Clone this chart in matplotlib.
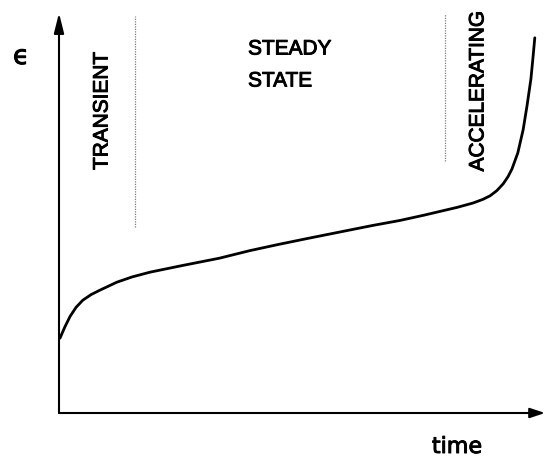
import matplotlib.pyplot as plt
import matplotlib.patheffects as pe

# creep curve (time, strain), both in 0..1 of the axes
time = [0.002, 0.012, 0.023, 0.035, 0.049, 0.066, 0.084, 0.119, 0.150, 0.187,
        0.255, 0.330, 0.393, 0.450, 0.510, 0.580, 0.646, 0.700, 0.749, 0.784,
        0.819, 0.852, 0.872, 0.887, 0.901, 0.914, 0.924, 0.932, 0.944, 0.955,
        0.963, 0.971, 0.975, 0.979]
strain = [0.187, 0.215, 0.242, 0.264, 0.282, 0.296, 0.307, 0.327, 0.340, 0.352,
          0.369, 0.387, 0.406, 0.421, 0.436, 0.453, 0.469, 0.481, 0.494, 0.504,
          0.514, 0.525, 0.534, 0.543, 0.556, 0.573, 0.591, 0.610, 0.650, 0.708,
          0.768, 0.835, 0.885, 0.938]

# stage boundaries (dotted lines)
bound_t = [0.156, 0.794]
bound_lo = [0.464, 0.631]
bound_hi = [0.993, 0.998]

fig = plt.figure(figsize=(5.47, 4.62), dpi=100)
ax = fig.add_axes([59 / 547, 49 / 462, 486 / 547, 400 / 462])
ax.set_xlim(0, 1)
ax.set_ylim(0, 1)
ax.axis("off")

# axes with arrows
ax.annotate("", xy=(1.0, 0), xytext=(0, 0),
            arrowprops=dict(arrowstyle="-|>,head_length=0.9,head_width=0.3",
                            lw=1.5, color="black", shrinkA=0, shrinkB=0),
            annotation_clip=False)
ax.annotate("", xy=(0, 1.0), xytext=(0, 0),
            arrowprops=dict(arrowstyle="-|>,head_length=1.2,head_width=0.3",
                            lw=1.5, color="black", shrinkA=0, shrinkB=0),
            annotation_clip=False)

ax.plot(time, strain, color="black", lw=2.0, solid_capstyle="round",
        solid_joinstyle="round")

for t, lo, hi in zip(bound_t, bound_lo, bound_hi):
    ax.plot([t, t], [lo, hi], color="gray", lw=0.9, linestyle=(0, (1, 1)))

fnt = "Liberation Sans"
bold = [pe.withStroke(linewidth=0.7, foreground="black")]
ax.text(0.0885, 0.756, "TRANSIENT", rotation=90, ha="center", va="center",
        fontsize=15, family=fnt, path_effects=bold)
ax.text(0.389, 0.910, "STEADY", ha="left", va="center", fontsize=15, family=fnt,
        path_effects=bold)
ax.text(0.389, 0.830, "STATE", ha="left", va="center", fontsize=15, family=fnt,
        path_effects=bold)
ax.text(0.862, 0.805, "ACCELERATING", rotation=90, ha="center", va="center",
        fontsize=15, family=fnt, path_effects=bold)

ax.text(0.819, -0.085, "time", ha="center", va="center", fontsize=16,
        family="DejaVu Sans", clip_on=False, path_effects=bold)
ax.text(-0.078, 0.890, "\u03f5", ha="center", va="center", fontsize=19,
        family="DejaVu Sans", clip_on=False, path_effects=bold)

fig.savefig("out.png", dpi=100)
